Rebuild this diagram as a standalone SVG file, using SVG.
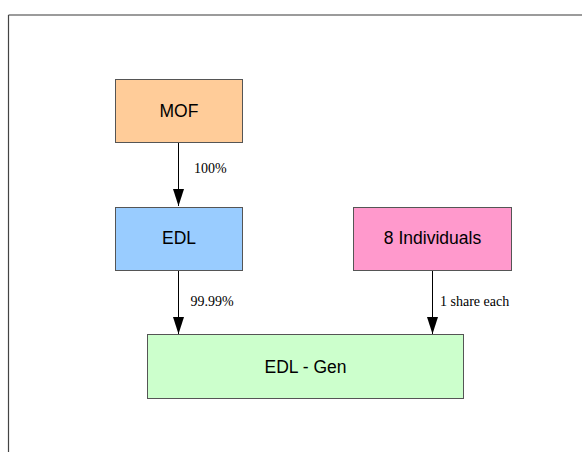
<svg xmlns="http://www.w3.org/2000/svg" width="582" height="452" viewBox="0 0 582 452">
  <style>
    .box { stroke: #555555; stroke-width: 1; }
    .name { font-family: "Liberation Sans", Arial, sans-serif; font-size: 17.5px; fill: #000000; text-anchor: middle; }
    .edge { stroke: #000000; stroke-width: 1; fill: none; marker-end: url(#arrow); }
    .share { font-family: "Liberation Serif", "Times New Roman", serif; font-size: 14px; fill: #000000; }
  </style>
  <defs>
    <!-- filled triangular head, 17 long and 11 wide -->
    <marker id="arrow" markerWidth="17" markerHeight="11" refX="17" refY="5.5" orient="auto" markerUnits="userSpaceOnUse">
      <polygon points="0,0 17,5.5 0,11" fill="#000000"/>
    </marker>
  </defs>
  <rect x="0" y="0" width="582" height="452" fill="#ffffff"/>
  <!-- page frame -->
  <g id="frame">
    <line x1="8.5" y1="15" x2="582" y2="15" stroke="#7a7a7a" stroke-width="1.5"/>
    <line x1="8.5" y1="15" x2="8.5" y2="452" stroke="#444444" stroke-width="1.2"/>
  </g>
  <!-- connectors -->
  <g id="connectors">
    <line class="edge" x1="178.5" y1="143" x2="178.5" y2="206"/>
    <text class="share" x="194" y="173">100%</text>
    <line class="edge" x1="178.5" y1="271" x2="178.5" y2="334"/>
    <text class="share" x="190.5" y="306">99.99%</text>
    <line class="edge" x1="432.5" y1="271" x2="432.5" y2="334"/>
    <text class="share" x="440" y="306">1 share each</text>
  </g>
  <g id="mof">
    <rect class="box" x="115.5" y="79.5" width="127" height="63" fill="#ffcc99"/>
    <text class="name" x="179" y="117">MOF</text>
  </g>
  <g id="edl">
    <rect class="box" x="115.5" y="207.5" width="127" height="63" fill="#99ccff"/>
    <text class="name" x="179" y="244">EDL</text>
  </g>
  <g id="individuals">
    <rect class="box" x="353.5" y="207.5" width="158" height="63" fill="#ff99cc"/>
    <text class="name" x="432.5" y="244">8 Individuals</text>
  </g>
  <g id="edl-gen">
    <rect class="box" x="147.5" y="334.5" width="316" height="64" fill="#ccffcc"/>
    <text class="name" x="305.5" y="372.5">EDL - Gen</text>
  </g>
</svg>
